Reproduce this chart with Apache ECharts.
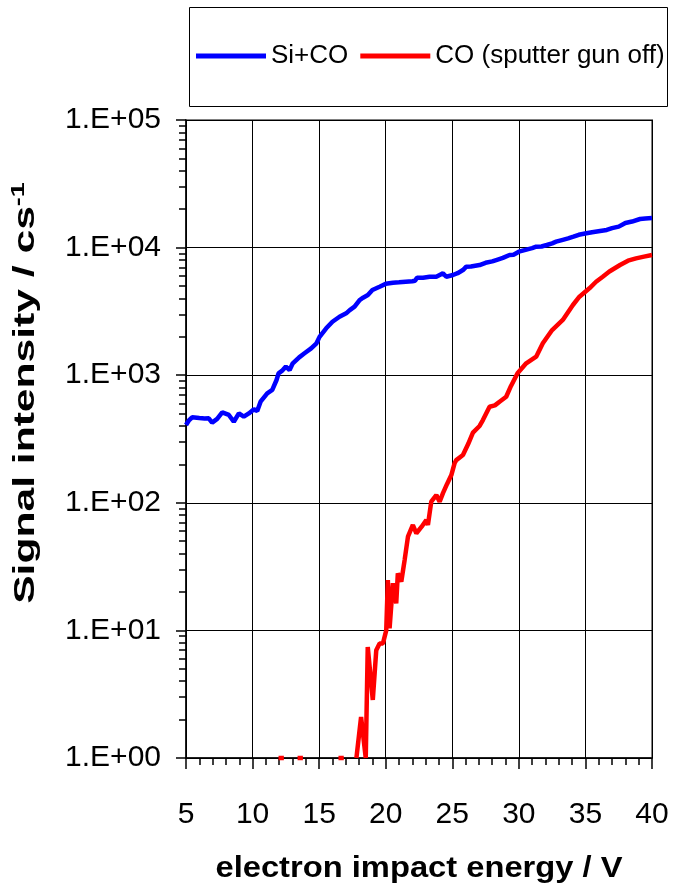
<!DOCTYPE html>
<html>
<head>
<meta charset="utf-8">
<script src="https://cdn.jsdelivr.net/npm/echarts@6/dist/echarts.min.js"></script>
<style>
  html, body { margin: 0; padding: 0; background: #fff; }
  #chart { width: 673px; height: 887px; }
</style>
</head>
<body>
<div id="chart"></div>
<script>
// Series names shown in the legend
const seriesNames = ['Si+CO', 'CO (sputter gun off)'];

// Si+CO: energy (V) and signal (counts per second)
const siEnergy = [5.0, 5.2, 5.46, 6.0, 6.4, 6.71, 6.96, 7.34, 7.72, 8.22, 8.59, 8.97, 9.34, 9.72, 10.1, 10.35, 10.6, 11.1, 11.48, 11.8,
  11.95, 12.2, 12.5, 12.65, 12.78, 13.0, 13.5, 13.9, 14.4, 14.8, 15.03, 15.53, 16.0, 16.53, 17.03, 17.3, 17.66, 18.04, 18.3, 18.66,
  19.0, 19.54, 20.0, 20.54, 21.0, 21.5, 22.0, 22.2, 22.35, 22.8, 23.3, 23.8, 24.3, 24.55, 25.05, 25.4, 25.8, 26.05, 26.4, 27.05,
  27.5, 28.0, 28.3, 28.8, 29.3, 29.6, 30.0, 30.5, 31.0, 31.3, 31.7, 32.1, 32.5, 32.8, 33.3, 33.7, 34.1, 34.5, 35.07, 35.5,
  36.1, 36.6, 37.0, 37.5, 38.0, 38.5, 39.1, 39.5, 40.0];
const siSignal = [407, 440, 468, 462, 458, 459, 425, 455, 512, 488, 432, 502, 473, 502, 540, 525, 620, 721, 766, 917,
  1035, 1080, 1167, 1202, 1097, 1230, 1380, 1485, 1624, 1779, 1996, 2330, 2625, 2872, 3055, 3236, 3443, 3883, 4050, 4250,
  4655, 4940, 5200, 5310, 5350, 5410, 5450, 5500, 5810, 5800, 5900, 5914, 6285, 5914, 6100, 6300, 6670, 7085, 7100, 7300,
  7600, 7800, 7990, 8300, 8750, 8800, 9290, 9600, 9900, 10160, 10200, 10480, 10800, 11130, 11500, 11800, 12170, 12600, 12940, 13200,
  13500, 13740, 14200, 14600, 15600, 16000, 16750, 16900, 17060];

// CO only (sputter gun off); null marks zero-count gaps that a log axis cannot show
const coEnergy = [11.95, 12.35, 12.36, 13.38, 13.78, 13.79, 16.45, 16.85, 16.86, 17.8, 18.15, 18.5, 18.65, 19.03, 19.29, 19.54, 19.79, 20.04, 20.16, 20.29,
  20.54, 20.79, 20.91, 21.17, 21.42, 21.67, 22.04, 22.3, 22.7, 23.05, 23.17, 23.42, 23.8, 24.05, 24.3, 24.6, 24.93, 25.17, 25.3, 25.8,
  26.2, 26.55, 27.05, 27.3, 27.8, 28.2, 28.55, 29.05, 29.4, 29.9, 30.55, 31.3, 31.8, 32.5, 33.3, 34.06, 34.55, 35.3, 35.8, 36.3,
  36.8, 37.6, 38.2, 38.8, 39.4, 40.0];
const coSignal = [1, 1, null, 1, 1, null, 1, 1, null, 1, 2.1, 1, 7.4, 2.85, 7.0, 7.9, 7.9, 10, 24.8, 10.4,
  23.4, 16.3, 28, 24.1, 35.6, 54.2, 67, 57.7, 65, 73.3, 67, 102, 115, 102, 119, 140, 165, 204, 216, 237,
  290, 355, 400, 445, 566, 580, 620, 678, 820, 1035, 1239, 1396, 1779, 2260, 2710, 3550, 4123, 4800, 5400, 5914,
  6500, 7305, 7900, 8240, 8500, 8750];

// Axis ranges and ticks
const xMin = 5, xMax = 40, xStep = 5;
const yDecades = [1, 10, 100, 1000, 10000, 100000];
const yMinorTicks = [];
for (let d = 1; d < 100000; d *= 10) {
  for (let k = 2; k <= 9; k++) yMinorTicks.push(d * k);
}

const xTitle = 'electron impact energy / V';
const yTitleMain = 'Signal intensity / cs';
const yTitleSup = '-1';

const FONT = "'Liberation Sans', Arial, Helvetica, sans-serif";

const chart = echarts.init(document.getElementById('chart'), null, { renderer: 'canvas' });

const toPairs = (xs, ys) => xs.map((x, i) => [x, ys[i]]);

chart.setOption({
  animation: false,
  backgroundColor: '#fff',
  textStyle: { fontFamily: FONT },
  grid: {
    left: 186, right: 21, top: 120, bottom: 129,
    show: true, borderColor: '#808080', borderWidth: 2, backgroundColor: 'transparent'
  },
  legend: {
    data: seriesNames,
    left: 196, top: 43, padding: 0, z: 10,
    icon: 'rect', itemWidth: 70, itemHeight: 5, itemGap: 12,
    textStyle: { fontSize: 26, color: '#000', fontFamily: FONT, lineHeight: 26 }
  },
  xAxis: {
    type: 'value', min: xMin, max: xMax, interval: xStep,
    axisLine: { show: true, lineStyle: { color: '#000', width: 1.5 } },
    axisTick: { show: true, inside: false, length: 11, lineStyle: { color: '#000', width: 1.5 } },
    minorTick: { show: true, splitNumber: 5, length: 7, lineStyle: { color: '#000', width: 1.5 } },
    axisLabel: { fontSize: 30, color: '#000', margin: 42, fontFamily: FONT },
    splitLine: { show: true, lineStyle: { color: '#000', width: 1 } }
  },
  yAxis: [
    {
      type: 'log', logBase: 10, min: 1, max: 100000, position: 'left',
      axisLine: { show: true, onZero: false, lineStyle: { color: '#000', width: 1.5 } },
      axisTick: { show: true, inside: false, length: 10, customValues: yDecades, lineStyle: { color: '#000', width: 1.5 } },
      axisLabel: {
        fontSize: 30, color: '#000', margin: 25, fontFamily: FONT,
        customValues: yDecades,
        formatter: v => '1.E+' + String(Math.round(Math.log10(v))).padStart(2, '0')
      },
      splitLine: { show: true, lineStyle: { color: '#000', width: 1 } }
    },
    {
      type: 'log', logBase: 10, min: 1, max: 100000, position: 'left', offset: 0,
      axisLine: { show: false },
      axisTick: { show: true, inside: false, length: 7, customValues: yMinorTicks, lineStyle: { color: '#000', width: 1.5 } },
      axisLabel: { show: false },
      splitLine: { show: false }
    }
  ],
  graphic: [
    {
      type: 'rect', z: 0, silent: true,
      shape: { x: 189.5, y: 7.5, width: 478, height: 99 },
      style: { fill: '#fff', stroke: '#000', lineWidth: 1 }
    },
    {
      type: 'text', z: 5, silent: true,
      x: 419, y: 869, scaleX: 1.09,
      style: {
        text: xTitle, fill: '#000', align: 'center', verticalAlign: 'middle',
        font: 'bold 30px ' + FONT
      }
    },
    {
      type: 'text', z: 5, silent: true,
      x: 26, y: 393, rotation: Math.PI / 2, scaleX: 1.42,
      style: {
        text: '{a|' + yTitleMain + '}{b|' + yTitleSup + '}',
        fill: '#000', align: 'center', verticalAlign: 'middle',
        rich: {
          a: { fontSize: 30, fontWeight: 'bold', fontFamily: FONT, fill: '#000', lineHeight: 34 },
          b: { fontSize: 19, fontWeight: 'bold', fontFamily: FONT, fill: '#000', verticalAlign: 'top', lineHeight: 34 }
        }
      }
    }
  ],
  series: [
    {
      name: seriesNames[0], type: 'line', yAxisIndex: 0,
      data: toPairs(siEnergy, siSignal),
      showSymbol: false, symbol: 'none', clip: false, connectNulls: false,
      color: '#0000ff',
      lineStyle: { color: '#0000ff', width: 4.5 }, z: 3
    },
    {
      name: seriesNames[1], type: 'line', yAxisIndex: 0,
      data: toPairs(coEnergy, coSignal),
      showSymbol: false, symbol: 'none', clip: false, connectNulls: false,
      color: '#ff0000',
      lineStyle: { color: '#ff0000', width: 4.5 }, z: 3
    }
  ]
});
</script>
</body>
</html>
